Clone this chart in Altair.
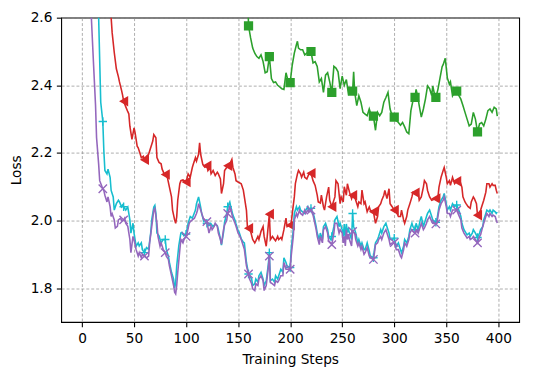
import altair as alt
import pandas as pd

# (training step, loss)
red = [(0,3.30),(10,2.95),(20,2.75),(26,2.64),(28,2.60),(29,2.555),(31,2.497),(33,2.449),(35,2.425),(36,2.41),(38,2.385),(39,2.371),(40,2.353),(42,2.337),(44,2.322),(45,2.315),(46,2.279),(48,2.24),(50,2.274),(51,2.26),(53,2.22),(54,2.215),(56,2.196),(57,2.186),(59,2.19),(60,2.18),(62,2.19),(64,2.196),(65,2.206),(68,2.235),(69,2.254),(71,2.245),(72,2.186),(74,2.172),(76,2.168),(77,2.152),(79,2.138),(80,2.136),(82,2.128),(84,2.099),(86,2.07),(87,2.031),(89,2.002),(90,1.992),(91,2.011),(92,2.06),(94,2.109),(95,2.118),(97,2.12),(100,2.114),(102,2.138),(104,2.128),(106,2.157),(107,2.167),(109,2.186),(110,2.176),(112,2.196),(113,2.23),(114,2.196),(116,2.167),(118,2.158),(120,2.162),(121,2.148),(123,2.157),(124,2.138),(126,2.148),(128,2.133),(130,2.143),(131,2.138),(133,2.123),(134,2.08),(136,2.109),(137,2.148),(139,2.157),(140,2.162),(142,2.167),(144,2.181),(145,2.157),(147,2.138),(148,2.118),(150,2.114),(153,2.109),(155,2.09),(156,2.07),(158,2.03),(159,1.978),(160,1.977),(162,1.968),(164,1.944),(166,1.934),(167,1.94),(169,1.953),(170,1.944),(172,1.968),(174,1.982),(175,1.953),(177,1.924),(178,1.953),(180,2.019),(181,1.944),(183,1.953),(185,1.944),(186,1.94),(188,1.953),(189,1.944),(191,1.95),(192,1.944),(194,1.973),(196,2.007),(197,1.982),(200,1.986),(201,1.992),(202,2.02),(204,2.07),(205,2.109),(207,2.138),(208,2.148),(210,2.138),(211,2.128),(213,2.143),(214,2.128),(216,2.123),(218,2.138),(220,2.14),(222,2.118),(224,2.104),(226,2.075),(227,2.055),(229,2.052),(230,2.075),(232,2.041),(233,2.031),(235,2.07),(237,2.099),(238,2.06),(240,2.041),(243,2.07),(244,2.118),(246,2.109),(248,2.05),(249,2.07),(251,2.055),(252,2.1),(254,2.075),(255,2.109),(257,2.084),(259,2.065),(260,2.075),(262,2.07),(263,2.06),(265,2.041),(266,2.055),(268,2.05),(269,2.09),(271,2.05),(272,2.055),(274,2.026),(276,2.04),(277,2.031),(280,2.026),(282,1.992),(284,2.012),(285,2.041),(287,2.05),(288,2.06),(290,2.075),(291,2.089),(293,2.065),(295,2.094),(296,2.05),(298,2.041),(300,2.031),(302,2.026),(304,2.012),(306,2.012),(307,2.031),(309,2.002),(310,1.992),(312,2.012),(313,2.031),(315,2.05),(317,2.07),(318,2.084),(320,2.082),(323,2.084),(324,2.06),(326,2.07),(328,2.099),(329,2.118),(331,2.109),(332,2.089),(334,2.07),(336,2.06),(340,2.065),(342,2.07),(343,2.099),(345,2.128),(347,2.148),(348,2.157),(350,2.128),(351,2.109),(353,2.118),(354,2.104),(356,2.128),(358,2.109),(360,2.116),(363,2.118),(365,2.099),(366,2.07),(368,2.055),(369,2.05),(371,2.041),(373,2.036),(374,2.055),(376,2.07),(377,2.065),(379,2.05),(380,2.016),(383,2.031),(384,2.041),(386,2.06),(388,2.084),(389,2.109),(391,2.109),(392,2.099),(394,2.109),(395,2.104),(397,2.104),(398,2.09),(399,2.08)]

green = [(150,2.75),(159,2.70),(160,2.576),(162,2.54),(164,2.51),(166,2.495),(168,2.485),(170,2.48),(172,2.49),(174,2.47),(176,2.437),(178,2.44),(180,2.485),(182,2.42),(184,2.408),(186,2.41),(188,2.40),(190,2.395),(192,2.39),(194,2.388),(196,2.437),(198,2.413),(200,2.408),(202,2.46),(204,2.495),(206,2.52),(207,2.53),(208,2.51),(210,2.505),(212,2.505),(214,2.49),(216,2.495),(218,2.50),(220,2.50),(222,2.466),(224,2.47),(226,2.456),(228,2.41),(230,2.42),(232,2.379),(234,2.43),(236,2.437),(238,2.41),(240,2.379),(242,2.456),(244,2.451),(246,2.44),(248,2.39),(250,2.427),(252,2.40),(254,2.417),(256,2.374),(258,2.38),(260,2.383),(261,2.44),(262,2.38),(264,2.34),(266,2.369),(268,2.35),(270,2.32),(272,2.315),(274,2.31),(276,2.33),(278,2.31),(280,2.309),(282,2.267),(284,2.32),(286,2.31),(288,2.32),(290,2.35),(292,2.364),(294,2.379),(296,2.33),(298,2.31),(300,2.306),(302,2.295),(304,2.29),(306,2.282),(308,2.29),(310,2.277),(312,2.262),(314,2.257),(316,2.325),(318,2.355),(320,2.364),(321,2.388),(323,2.36),(324,2.34),(326,2.306),(328,2.33),(330,2.36),(332,2.398),(334,2.39),(336,2.37),(337,2.398),(339,2.369),(340,2.364),(342,2.388),(344,2.422),(346,2.455),(347,2.461),(349,2.48),(351,2.422),(353,2.403),(354,2.41),(356,2.369),(358,2.38),(360,2.383),(362,2.37),(364,2.359),(366,2.34),(368,2.32),(370,2.30),(372,2.28),(374,2.285),(376,2.32),(378,2.30),(380,2.262),(382,2.286),(384,2.29),(386,2.28),(388,2.30),(390,2.325),(392,2.33),(394,2.32),(396,2.335),(398,2.33),(399,2.309)]

cyan = [(0,3.40),(8,2.95),(14,2.70),(16,2.60),(18,2.35),(20,2.293),(21,2.206),(22,2.148),(24,2.138),(25,2.152),(27,2.128),(28,2.089),(30,2.07),(31,2.031),(33,2.05),(35,2.06),(36,2.055),(38,2.041),(39,2.046),(40,2.041),(42,2.031),(44,2.04),(46,2.002),(47,1.963),(49,1.992),(50,1.963),(52,1.924),(54,1.934),(55,1.925),(57,1.934),(58,1.914),(60,1.905),(62,1.92),(64,1.915),(66,1.963),(67,2.002),(69,2.04),(70,2.045),(71,2.021),(72,1.963),(74,1.955),(76,1.934),(78,1.944),(80,1.944),(81,1.914),(83,1.895),(84,1.876),(86,1.847),(88,1.827),(89,1.80),(90,1.816),(91,1.866),(93,1.925),(95,1.963),(96,1.965),(98,1.955),(100,1.96),(102,1.992),(104,2.012),(106,2.007),(107,2.015),(109,2.031),(110,2.05),(112,2.07),(114,2.04),(115,2.021),(117,1.998),(119,2.0),(120,1.992),(122,1.985),(124,1.99),(126,1.982),(128,1.99),(130,1.985),(131,1.973),(133,1.946),(134,1.927),(136,1.966),(137,1.995),(139,2.02),(140,2.041),(142,2.055),(143,2.04),(145,2.016),(147,2.001),(148,1.99),(150,1.97),(151,1.965),(153,1.946),(155,1.936),(156,1.934),(158,1.876),(160,1.842),(161,1.837),(163,1.827),(164,1.808),(166,1.813),(167,1.827),(169,1.818),(170,1.837),(172,1.847),(174,1.827),(175,1.808),(177,1.822),(179,1.87),(180,1.905),(181,1.822),(183,1.827),(185,1.818),(186,1.837),(188,1.827),(189,1.837),(191,1.856),(193,1.847),(194,1.89),(196,1.876),(197,1.866),(200,1.861),(201,1.914),(203,1.973),(204,2.021),(206,2.041),(207,2.031),(209,2.041),(210,2.031),(212,2.026),(214,2.021),(215,2.031),(217,2.041),(218,2.031),(220,2.036),(222,2.021),(223,2.012),(225,1.982),(226,1.963),(228,1.944),(229,1.963),(231,1.944),(232,1.982),(234,1.992),(236,1.973),(237,1.953),(239,1.944),(240,1.953),(242,1.982),(243,2.002),(245,2.012),(247,1.982),(248,1.992),(250,1.973),(251,1.953),(252,1.99),(253,1.944),(254,1.99),(255,1.965),(256,1.975),(257,1.963),(259,1.944),(260,2.021),(261,1.982),(263,1.963),(265,1.934),(266,1.944),(268,1.924),(269,1.934),(271,1.914),(272,1.914),(274,1.934),(276,1.91),(277,1.895),(280,1.89),(281,1.914),(282,1.934),(284,1.944),(285,1.953),(287,1.973),(288,1.963),(290,1.982),(292,1.992),(293,1.982),(295,1.963),(296,1.944),(298,1.944),(300,1.948),(302,1.924),(304,1.934),(306,1.914),(307,1.905),(309,1.924),(310,1.944),(312,1.934),(314,1.953),(315,1.973),(317,1.992),(318,1.982),(320,1.973),(321,1.992),(323,1.973),(325,2.002),(326,2.012),(328,1.982),(329,1.992),(331,2.012),(332,2.021),(334,2.031),(336,2.012),(337,2.002),(340,1.995),(341,2.002),(342,2.021),(343,2.041),(345,2.06),(347,2.07),(348,2.08),(350,2.05),(351,2.031),(353,2.041),(354,2.031),(356,2.05),(358,2.041),(360,2.046),(362,2.031),(364,2.012),(365,1.992),(367,1.973),(369,1.963),(370,1.958),(372,1.963),(373,1.953),(375,1.963),(376,1.973),(378,1.963),(380,1.95),(382,1.963),(383,1.973),(385,1.982),(386,2.002),(388,2.021),(389,2.031),(391,2.026),(392,2.031),(394,2.021),(395,2.031),(397,2.026),(398,2.021),(399,2.025)]

purple = [(0,3.30),(4,2.90),(8,2.65),(9,2.60),(11,2.468),(13,2.342),(14,2.245),(16,2.167),(17,2.118),(20,2.094),(21,2.089),(22,2.075),(24,2.055),(25,2.07),(27,2.041),(28,2.012),(29,2.02),(31,2.002),(32,1.978),(34,1.983),(35,2.002),(37,2.007),(38,2.0),(40,2.002),(41,2.007),(42,1.992),(44,1.983),(46,1.944),(47,1.905),(49,1.953),(50,1.944),(52,1.914),(54,1.895),(55,1.905),(57,1.89),(58,1.9),(60,1.895),(62,1.89),(64,1.895),(65,1.934),(67,1.982),(69,2.031),(70,2.036),(72,1.992),(73,1.953),(75,1.924),(76,1.934),(78,1.915),(80,1.905),(81,1.895),(83,1.885),(84,1.866),(86,1.837),(88,1.808),(89,1.788),(90,1.783),(91,1.808),(92,1.847),(94,1.914),(95,1.944),(97,1.934),(98,1.944),(100,1.953),(101,1.963),(103,1.992),(104,1.997),(106,2.002),(108,2.007),(110,2.021),(111,2.031),(112,2.05),(114,2.031),(116,2.012),(117,2.003),(118,2.0),(120,1.997),(122,1.963),(124,1.983),(125,1.973),(127,1.983),(128,1.992),(130,1.983),(131,1.963),(133,1.944),(134,1.93),(136,1.973),(137,1.987),(139,2.0),(140,2.021),(142,2.041),(143,2.031),(145,2.007),(147,1.992),(148,1.983),(150,1.963),(151,1.958),(153,1.944),(155,1.925),(156,1.915),(158,1.866),(160,1.842),(161,1.827),(163,1.813),(164,1.798),(166,1.793),(167,1.813),(169,1.808),(170,1.827),(172,1.837),(174,1.822),(175,1.793),(177,1.808),(179,1.86),(180,1.895),(181,1.817),(183,1.813),(185,1.808),(186,1.822),(188,1.817),(189,1.822),(191,1.837),(193,1.837),(194,1.876),(196,1.856),(197,1.856),(200,1.856),(201,1.895),(203,1.953),(204,2.002),(206,2.021),(207,2.012),(209,2.031),(210,2.021),(212,2.016),(214,2.031),(215,2.021),(217,2.031),(218,2.026),(220,2.031),(222,2.016),(223,2.002),(225,1.973),(226,1.953),(228,1.929),(229,1.953),(231,1.934),(232,1.973),(234,1.982),(236,1.963),(237,1.94),(239,1.934),(240,1.929),(242,1.963),(243,1.992),(245,1.992),(247,1.963),(248,1.973),(250,1.963),(251,1.934),(252,1.953),(253,1.925),(254,1.973),(255,1.944),(256,1.96),(257,1.944),(259,1.925),(260,1.968),(262,1.963),(263,1.944),(265,1.925),(266,1.934),(268,1.914),(269,1.924),(271,1.9),(272,1.905),(274,1.92),(276,1.895),(277,1.89),(280,1.885),(281,1.905),(282,1.929),(284,1.934),(285,1.944),(287,1.953),(288,1.944),(290,1.963),(292,1.973),(293,1.963),(295,1.944),(296,1.929),(298,1.934),(300,1.935),(302,1.914),(304,1.914),(306,1.895),(307,1.89),(309,1.914),(310,1.934),(312,1.924),(314,1.944),(315,1.963),(317,1.973),(318,1.968),(320,1.963),(321,1.973),(323,1.963),(325,1.982),(326,1.992),(328,1.973),(329,1.978),(331,1.992),(332,2.002),(334,2.012),(336,1.997),(337,1.992),(340,1.99),(341,1.992),(342,2.012),(343,2.031),(345,2.05),(347,2.06),(348,2.07),(350,2.041),(351,2.021),(353,2.021),(354,2.012),(356,2.031),(358,2.031),(360,2.031),(362,2.016),(364,2.002),(365,1.978),(367,1.963),(369,1.953),(370,1.948),(372,1.953),(373,1.944),(375,1.948),(376,1.953),(378,1.944),(380,1.934),(382,1.953),(383,1.958),(385,1.982),(386,1.992),(388,2.012),(389,2.021),(391,2.012),(392,2.021),(394,2.012),(395,2.016),(397,2.012),(398,2.002),(399,1.993)]

x_ticks = [0, 50, 100, 150, 200, 250, 300, 350, 400]
y_ticks = [1.8, 2.0, 2.2, 2.4, 2.6]

# name, values, colour, marker shape, filled, marker size
series = [
    ("red", red, "#d62728", "triangle-left", True, 115),
    ("green", green, "#2ca02c", "square", True, 88),
    ("cyan", cyan, "#17becf", "M-1,0L1,0M0,-1L0,1", False, 72),
    ("purple", purple, "#9467bd", "M-1,-1L1,1M-1,1L1,-1", False, 72),
]

x_enc = alt.X("step:Q", scale=alt.Scale(domain=[-20, 420], nice=False, zero=False),
              axis=alt.Axis(values=x_ticks, title="Training Steps", format="d", titlePadding=8))
y_enc = alt.Y("loss:Q", scale=alt.Scale(domain=[1.7, 2.6], nice=False, zero=False),
              axis=alt.Axis(values=y_ticks, title="Loss", format=".1f", titlePadding=7))

layers = []
for name, pts, col, shape, filled, msize in series:
    df = pd.DataFrame(pts, columns=["step", "loss"])
    base = alt.Chart(df).encode(x=x_enc, y=y_enc)
    layers.append(base.mark_line(clip=True, color=col, strokeWidth=1.6))
    mk = df[df["step"] % 20 == 0]
    pbase = alt.Chart(mk).encode(x=x_enc, y=y_enc)
    if filled:
        layers.append(pbase.mark_point(clip=True, shape=shape, filled=True, color=col,
                                       size=msize, opacity=1))
    else:
        layers.append(pbase.mark_point(clip=True, shape=shape, filled=False, color=col,
                                       size=msize, strokeWidth=1.4, opacity=1))

chart = alt.layer(*layers).properties(
    width=465, height=309,
    autosize=alt.AutoSizeParams(type="none"),
    padding={"left": 54, "top": 7, "right": 9, "bottom": 52},
).configure_axis(
    grid=True, gridColor="#8a8a8a", gridDash=[3, 2], gridWidth=0.7,
    domain=False, tickColor="black", tickSize=4.9, tickWidth=1.1,
    labelFont="DejaVu Sans", labelFontSize=13.9, labelColor="black", labelPadding=4.5,
    titleFont="DejaVu Sans", titleFontSize=13.9, titleFontWeight="normal", titleColor="black",
).configure_view(stroke="black", strokeWidth=1.1)

chart.save("out.html", embed_options={"renderer": "svg", "actions": False})
